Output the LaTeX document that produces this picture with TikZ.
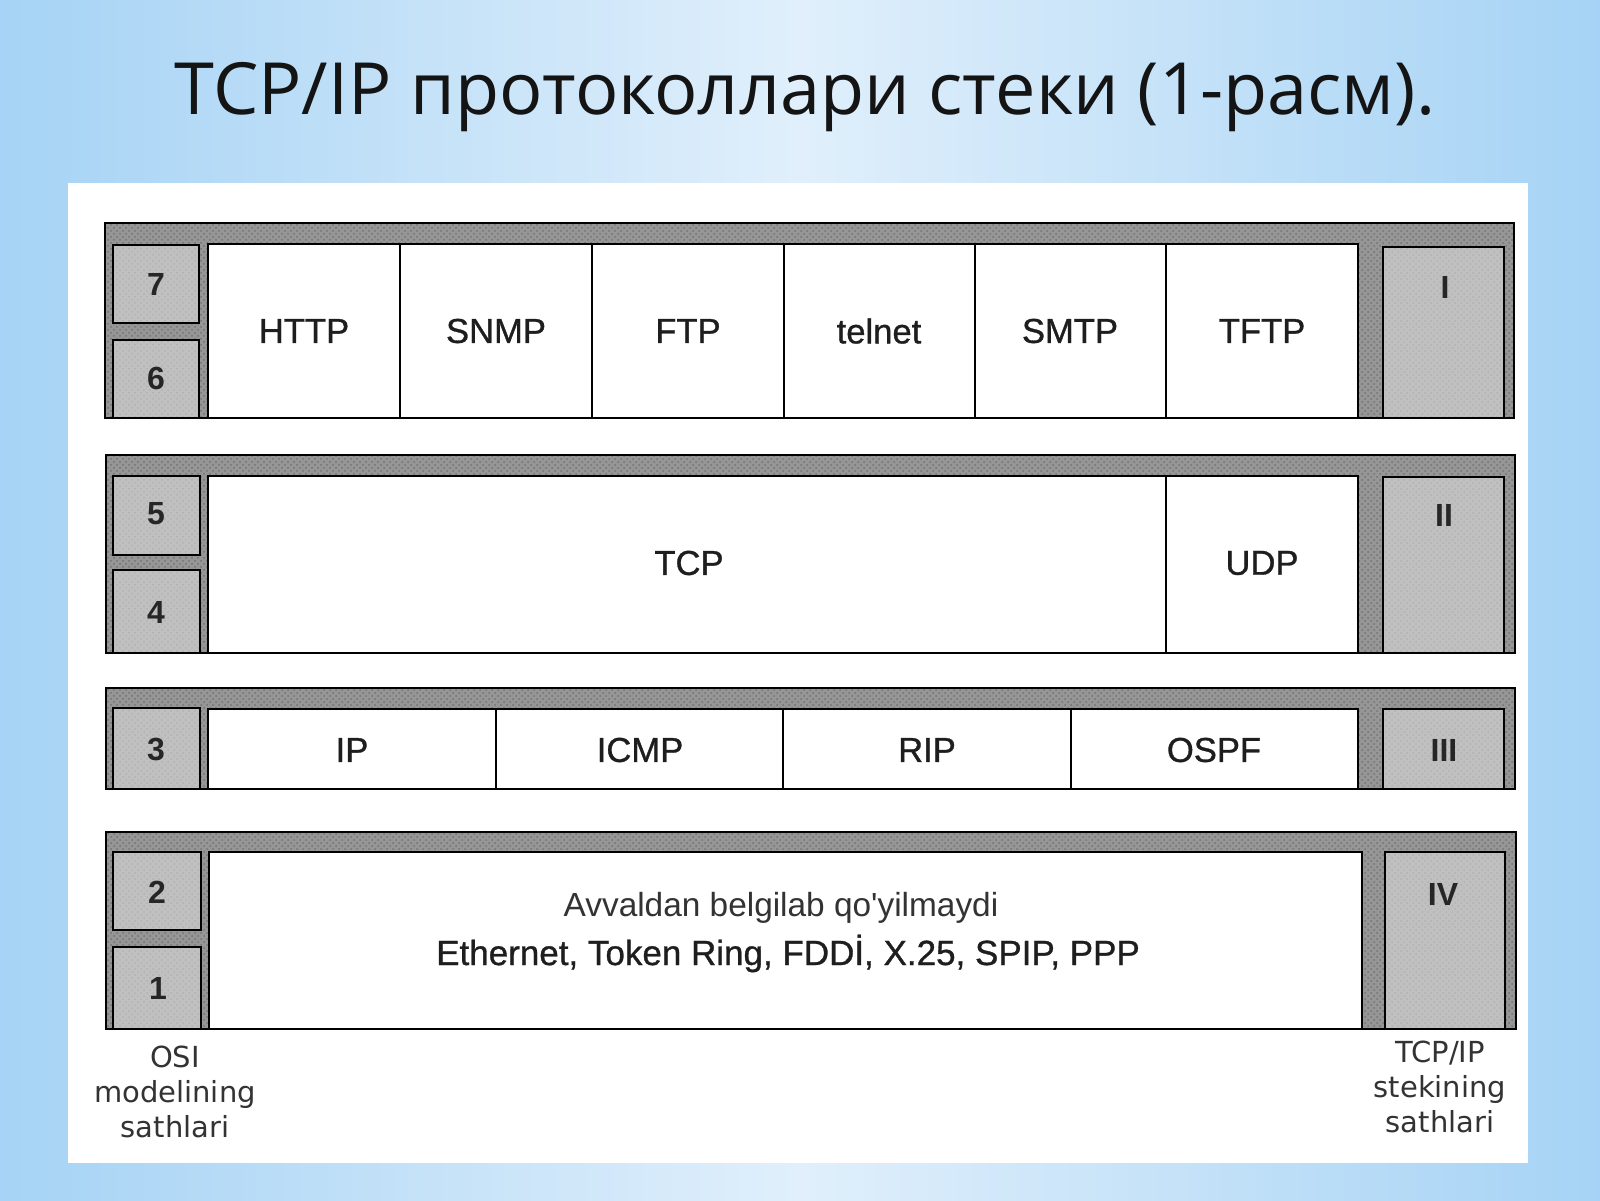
\documentclass[tikz,border=0pt]{standalone}
\usepackage{fontspec}
\setmainfont{Liberation Sans}
\newfontfamily\titlefont{Open Sans}
\newfontfamily\labelfont{DejaVu Sans}
\newfontfamily\cellfont[FakeBold=0.9]{Liberation Sans}
\newfontfamily\plainfont[Ligatures=TeXOff]{Liberation Sans}
\usetikzlibrary{patterns}
\definecolor{bgedge}{RGB}{166,211,245}
\definecolor{bgmid}{RGB}{224,239,251}
\definecolor{bandgray}{RGB}{150,150,150}
\definecolor{boxgray}{RGB}{192,192,192}
\definecolor{inkgray}{RGB}{30,30,30}
\tikzset{
  band/.style={preaction={fill=bandgray}, pattern=crosshatch dots, pattern color=black!55,
    draw=black, line width=1.4pt},
  numbox/.style={preaction={fill=boxgray}, pattern=crosshatch dots, pattern color=black!30,
    draw=black, line width=1.3pt},
  cell/.style={draw=black, line width=1.1pt, fill=white},
  celltxt/.style={font=\cellfont\fontsize{17.3}{20}\selectfont, text=inkgray},
  numtxt/.style={font=\bfseries\fontsize{16}{19}\selectfont, text=black!85},
  sidetxt/.style={font=\labelfont\fontsize{14.5}{17.5}\selectfont, text=black!80, align=center, inner sep=0pt},
}
\begin{document}
\begin{tikzpicture}[x=0.5pt,y=-0.5pt]
\useasboundingbox (0,0) rectangle (1600,1200);
\fill[left color=bgedge, right color=bgedge, middle color=bgmid] (0,0) rectangle (1600,1200);
\fill[white] (68,183) rectangle (1528,1163);

\node[anchor=base, font=\titlefont\fontsize{36}{42}\selectfont, text=black!92] (title) at (805,114) {TCP/IP протоколлари стеки (1-расм).};

% application layer
\draw[band] (105,223) rectangle (1514,418);
\draw[numbox] (113,245) rectangle (199,323);
\draw[numbox] (113,340) rectangle (199,418);
\draw[numbox] (1383,247) rectangle (1504,418);
\draw[cell] (208,244) rectangle (400,418);
\draw[cell] (400,244) rectangle (592,418);
\draw[cell] (592,244) rectangle (784,418);
\draw[cell] (784,244) rectangle (975,418);
\draw[cell] (975,244) rectangle (1166,418);
\draw[cell] (1166,244) rectangle (1358,418);
\node[numtxt] (l7) at (156,284) {7};
\node[numtxt] (l6) at (156,378) {6};
\node[numtxt] (rI) at (1445,287) {I};
\node[celltxt] (http) at (304,331) {HTTP};
\node[celltxt] (snmp) at (496,331) {SNMP};
\node[celltxt] (ftp) at (688,331) {FTP};
\node[celltxt] (telnet) at (879,331) {telnet};
\node[celltxt] (smtp) at (1070,331) {SMTP};
\node[celltxt] (tftp) at (1262,331) {TFTP};

% transport layer
\draw[band] (106,455) rectangle (1515,653);
\draw[numbox] (113,476) rectangle (200,555);
\draw[numbox] (113,570) rectangle (200,653);
\draw[numbox] (1383,477) rectangle (1504,653);
\draw[cell] (208,476) rectangle (1166,653);
\draw[cell] (1166,476) rectangle (1358,653);
\node[numtxt] (l5) at (156,514) {5};
\node[numtxt] (l4) at (156,612) {4};
\node[numtxt] (rII) at (1444,515) {II};
\node[celltxt] (tcp) at (689,563) {TCP};
\node[celltxt] (udp) at (1262,563) {UDP};

% internet layer
\draw[band] (106,688) rectangle (1515,789);
\draw[numbox] (113,708) rectangle (200,789);
\draw[numbox] (1383,709) rectangle (1504,789);
\draw[cell] (208,709) rectangle (496,789);
\draw[cell] (496,709) rectangle (783,789);
\draw[cell] (783,709) rectangle (1071,789);
\draw[cell] (1071,709) rectangle (1358,789);
\node[numtxt] (l3) at (156,749) {3};
\node[numtxt] (rIII) at (1444,750) {III};
\node[celltxt] (ip) at (352,750) {IP};
\node[celltxt] (icmp) at (640,750) {ICMP};
\node[celltxt] (rip) at (927,750) {RIP};
\node[celltxt] (ospf) at (1214,750) {OSPF};

% network access layer
\draw[band] (106,832) rectangle (1516,1029);
\draw[numbox] (113,852) rectangle (201,930);
\draw[numbox] (113,947) rectangle (201,1029);
\draw[numbox] (1385,852) rectangle (1505,1029);
\draw[cell] (209,852) rectangle (1362,1029);
\node[numtxt] (l2) at (157,892) {2};
\node[numtxt] (l1) at (158,988) {1};
\node[numtxt] (rIV) at (1443,894) {IV};
\node[anchor=base, font=\plainfont\fontsize{16.7}{19}\selectfont, text=black!80] (nodef) at (781,916) {Avvaldan belgilab qo'yilmaydi};
\node[anchor=base, celltxt, font=\cellfont\fontsize{17.5}{20}\selectfont] (ethline) at (788,965) {Ethernet, Token Ring, FDDİ, X.25, SPIP, PPP};

\node[sidetxt, anchor=north] (osilbl) at (175,1046) {OSI\\modelining\\sathlari};
\node[sidetxt, anchor=north] (tcpiplbl) at (1440,1041) {TCP/IP\\stekining\\sathlari};
\end{tikzpicture}
\end{document}
